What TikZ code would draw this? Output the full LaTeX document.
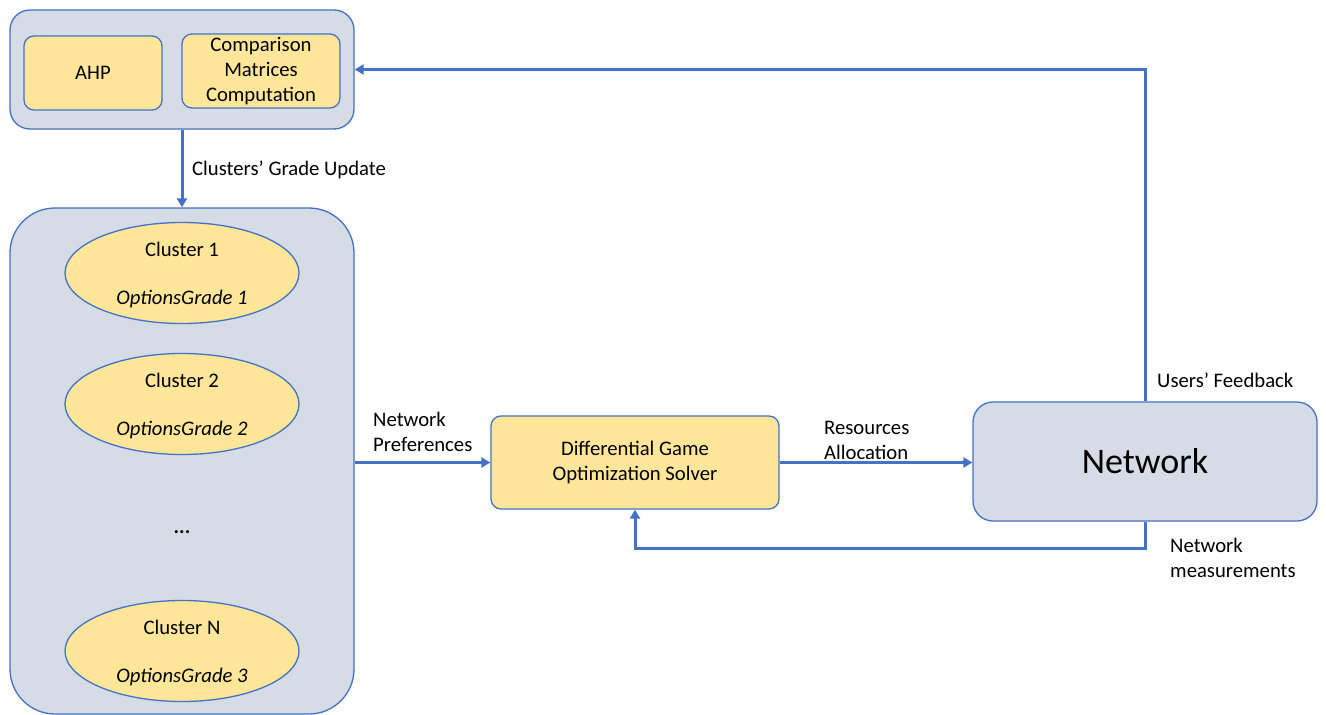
\documentclass[tikz,border=0pt]{standalone}
\usepackage{fontspec}
\setmainfont{Carlito}
\usetikzlibrary{arrows.meta,positioning,shapes.geometric}

\definecolor{edgeblue}{HTML}{4472C4}
\definecolor{panel}{HTML}{D6DCE5}
\definecolor{gold}{HTML}{FFE699}

\tikzset{
  panelbox/.style={draw=edgeblue,fill=panel,line width=1.3pt,inner sep=0pt},
  goldbox/.style={draw=edgeblue,fill=gold,line width=1.3pt,rounded corners=10pt,
    inner sep=0pt,align=center},
  cluster/.style={ellipse,draw=edgeblue,fill=gold,line width=1.3pt,
    minimum width=234pt,minimum height=101pt,inner sep=0pt},
  flow/.style={draw=edgeblue,line width=3pt,-{Triangle[length=9pt,width=10pt]}},
  lbl/.style={anchor=west,align=left,inner sep=0pt}
}

\begin{document}
\begin{tikzpicture}[x=1pt,y=-1pt,every node/.style={font=\fontsize{20.7}{25}\selectfont}]
    \useasboundingbox (0,0) rectangle (1326,715);

    % AHP panel at the top
    \node[panelbox,rounded corners=20pt,minimum width=344pt,minimum height=119pt]
        (top) at (182,69.5) {};
    \node[goldbox,minimum width=138pt,minimum height=74pt] (ahp) at (93,73) {AHP};
    \node[goldbox,minimum width=158pt,minimum height=74pt] (cmc) at (261,71)
        {Comparison\\Matrices\\Computation};

    % Clusters panel
    \node[panelbox,rounded corners=45pt,minimum width=344pt,minimum height=506pt]
        (clusters) at (182,461) {};
    \foreach \n/\y/\g in {c1/273/1,c2/404/2,cN/651/3}{
        \node[cluster] (\n) at (182,\y) {};
        \node[inner sep=0pt] at (182,\y+26) {\textit{OptionsGrade \g}};
    }
    \node[inner sep=0pt] at (182,249) {Cluster 1};
    \node[inner sep=0pt] at (182,380) {Cluster 2};
    \node[inner sep=0pt] at (182,627) {Cluster N};
    \node (dots) at (182,532) {\textbf{...}};

    % Solver and network
    \node[goldbox,minimum width=288pt,minimum height=93pt] (dgos) at (635,462.5)
        {Differential Game\\Optimization Solver};
    \node[panelbox,rounded corners=20pt,minimum width=344pt,minimum height=119pt,
        font=\fontsize{36}{42}\selectfont] (net) at (1145,461.5) {Network};

    % Connectors
    \draw[flow] (top.south) -- (clusters.north);
    \draw[flow] (clusters.east |- dgos.west) -- (dgos.west);
    \draw[flow] (dgos.east) -- (net.west |- dgos.east);
    \draw[flow] (net.north) |- (top.east);
    \draw[flow] (net.south) -- ++(0,27) -| (dgos.south);

    % Labels
    \node[lbl] at (192,170) {Clusters’ Grade Update};
    \node[lbl] at (373,432) {Network\\Preferences};
    \node[lbl] at (824,440) {Resources\\Allocation};
    \node[lbl] at (1157,380) {Users’ Feedback};
    \node[lbl] at (1170,558) {Network\\measurements};
\end{tikzpicture}
\end{document}
